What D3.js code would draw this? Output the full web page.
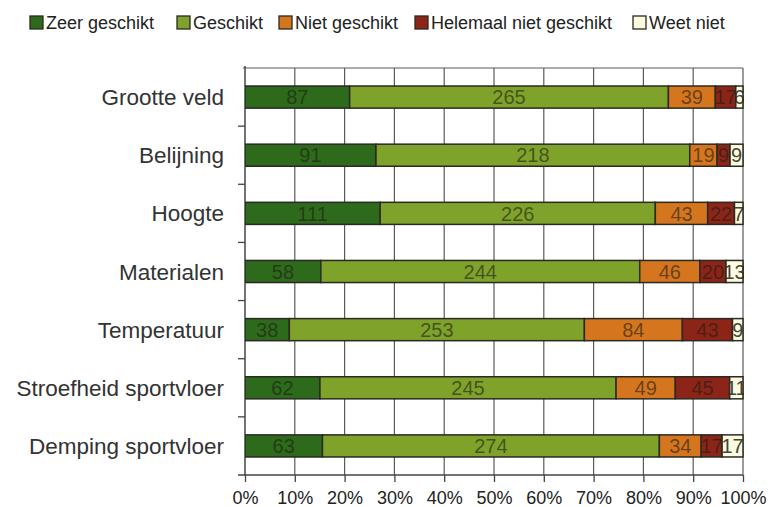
<!DOCTYPE html>
<html><head><meta charset="utf-8">
<script src="https://cdn.jsdelivr.net/npm/d3@7"></script>
<style>body{margin:0;background:#fff}svg{display:block}text{font-family:"Liberation Sans",Arial,sans-serif}</style>
</head><body><svg id="c" width="770" height="507"></svg>
<script>
const categories = ["Grootte veld","Belijning","Hoogte","Materialen","Temperatuur","Stroefheid sportvloer","Demping sportvloer"];
const seriesNames = ["Zeer geschikt","Geschikt","Niet geschikt","Helemaal niet geschikt","Weet niet"];
const zeerGeschikt = [87,91,111,58,38,62,63];
const geschikt = [265,218,226,244,253,245,274];
const nietGeschikt = [39,19,43,46,84,49,34];
const helemaalNiet = [17,9,22,20,43,45,17];
const weetNiet = [6,9,7,13,9,11,17];
const tickLabels = ["0%","10%","20%","30%","40%","50%","60%","70%","80%","90%","100%"];
const colors = ["#2d6a1b","#7fa22a","#d5761e","#8c2417","#fcfbdf"];

const series = [zeerGeschikt,geschikt,nietGeschikt,helemaalNiet,weetNiet];
const svg = d3.select("#c");
const L = 245, R = 743, T = 68, B = 475;
const x = d3.scaleLinear().domain([0,1]).range([L,R]);
const y = d3.scaleBand().domain(categories).range([T,B]).paddingInner(0.62).paddingOuter(0.31);

// gridlines
const ticks = d3.range(0, 1.0001, 0.1);
svg.append("g").selectAll("line").data(ticks.slice(1)).join("line")
  .attr("x1", d=>x(d)).attr("x2", d=>x(d)).attr("y1", T).attr("y2", B)
  .attr("stroke","#5a5a5a").attr("stroke-width",1.2);
svg.append("line").attr("x1",L-2).attr("x2",R).attr("y1",T).attr("y2",T).attr("stroke","#5a5a5a").attr("stroke-width",1.2);

// bottom axis
const xAxis = d3.axisBottom(x).tickValues(ticks).tickFormat((d,i)=>tickLabels[i]).tickSize(7).tickPadding(9).tickSizeOuter(0);
const gx = svg.append("g").attr("transform",`translate(0,${B})`).call(xAxis);
gx.select(".domain").attr("stroke","#444").attr("stroke-width",1.5).attr("d",`M${L-7},0H${R}`);
gx.selectAll(".tick line").attr("stroke","#444").attr("stroke-width",1.3);
gx.selectAll(".tick text").attr("font-size",18).attr("fill","#222").attr("font-family","Liberation Sans, Arial, sans-serif");

// left axis
const gy = svg.append("g");
gy.append("line").attr("x1",L).attr("x2",L).attr("y1",T-2).attr("y2",B).attr("stroke","#444").attr("stroke-width",1.5);
const bounds = categories.map(c=>y(c) - y.step()*y.paddingInner()/2);
gy.selectAll("line.t").data(bounds.slice(1)).join("line").attr("class","t")
  .attr("x1",L-7).attr("x2",L).attr("y1",d=>d).attr("y2",d=>d).attr("stroke","#444").attr("stroke-width",1.3);
gy.selectAll("text").data(categories).join("text")
  .attr("x", 224).attr("y", d=>y(d)+y.bandwidth()/2).attr("dy","0.36em")
  .attr("text-anchor","end").attr("font-size",22.5).attr("fill","#333").text(d=>d);

// bars
svg.append("defs").append("clipPath").attr("id","clip").append("rect").attr("x",L).attr("y",T).attr("width",R-L+1).attr("height",B-T);
const bars = svg.append("g").attr("clip-path","url(#clip)");
categories.forEach((c,i)=>{
  const vals = series.map(s=>s[i]);
  const total = d3.sum(vals);
  let acc = 0;
  vals.forEach((v,j)=>{
    const x0 = x(acc/total), x1 = x((acc+v)/total);
    acc += v;
    bars.append("rect").attr("x",x0).attr("y",y(c)).attr("width",x1-x0).attr("height",y.bandwidth())
      .attr("fill",colors[j]).attr("stroke","#2a2a22").attr("stroke-width",1.5);
    bars.append("text").attr("x",(x0+x1)/2).attr("y",y(c)+y.bandwidth()/2).attr("dy","0.36em")
      .attr("text-anchor","middle").attr("font-size",20).attr("fill", j===4 ? "#2a2a22" : "#1e1e14")
      .attr("fill-opacity", j===4 ? 0.9 : 0.62).text(v);
  });
});

// legend
const legX = [30,177,279,415,633];
const lg = svg.append("g");
seriesNames.forEach((n,i)=>{
  lg.append("rect").attr("x",legX[i]).attr("y",16).attr("width",13).attr("height",13)
    .attr("fill",colors[i]).attr("stroke","#2a2a22").attr("stroke-width",1.3);
  lg.append("text").attr("x",legX[i]+16).attr("y",22.5).attr("dy","0.36em").attr("font-size",18).attr("fill","#222").text(n);
});
</script></body></html>
